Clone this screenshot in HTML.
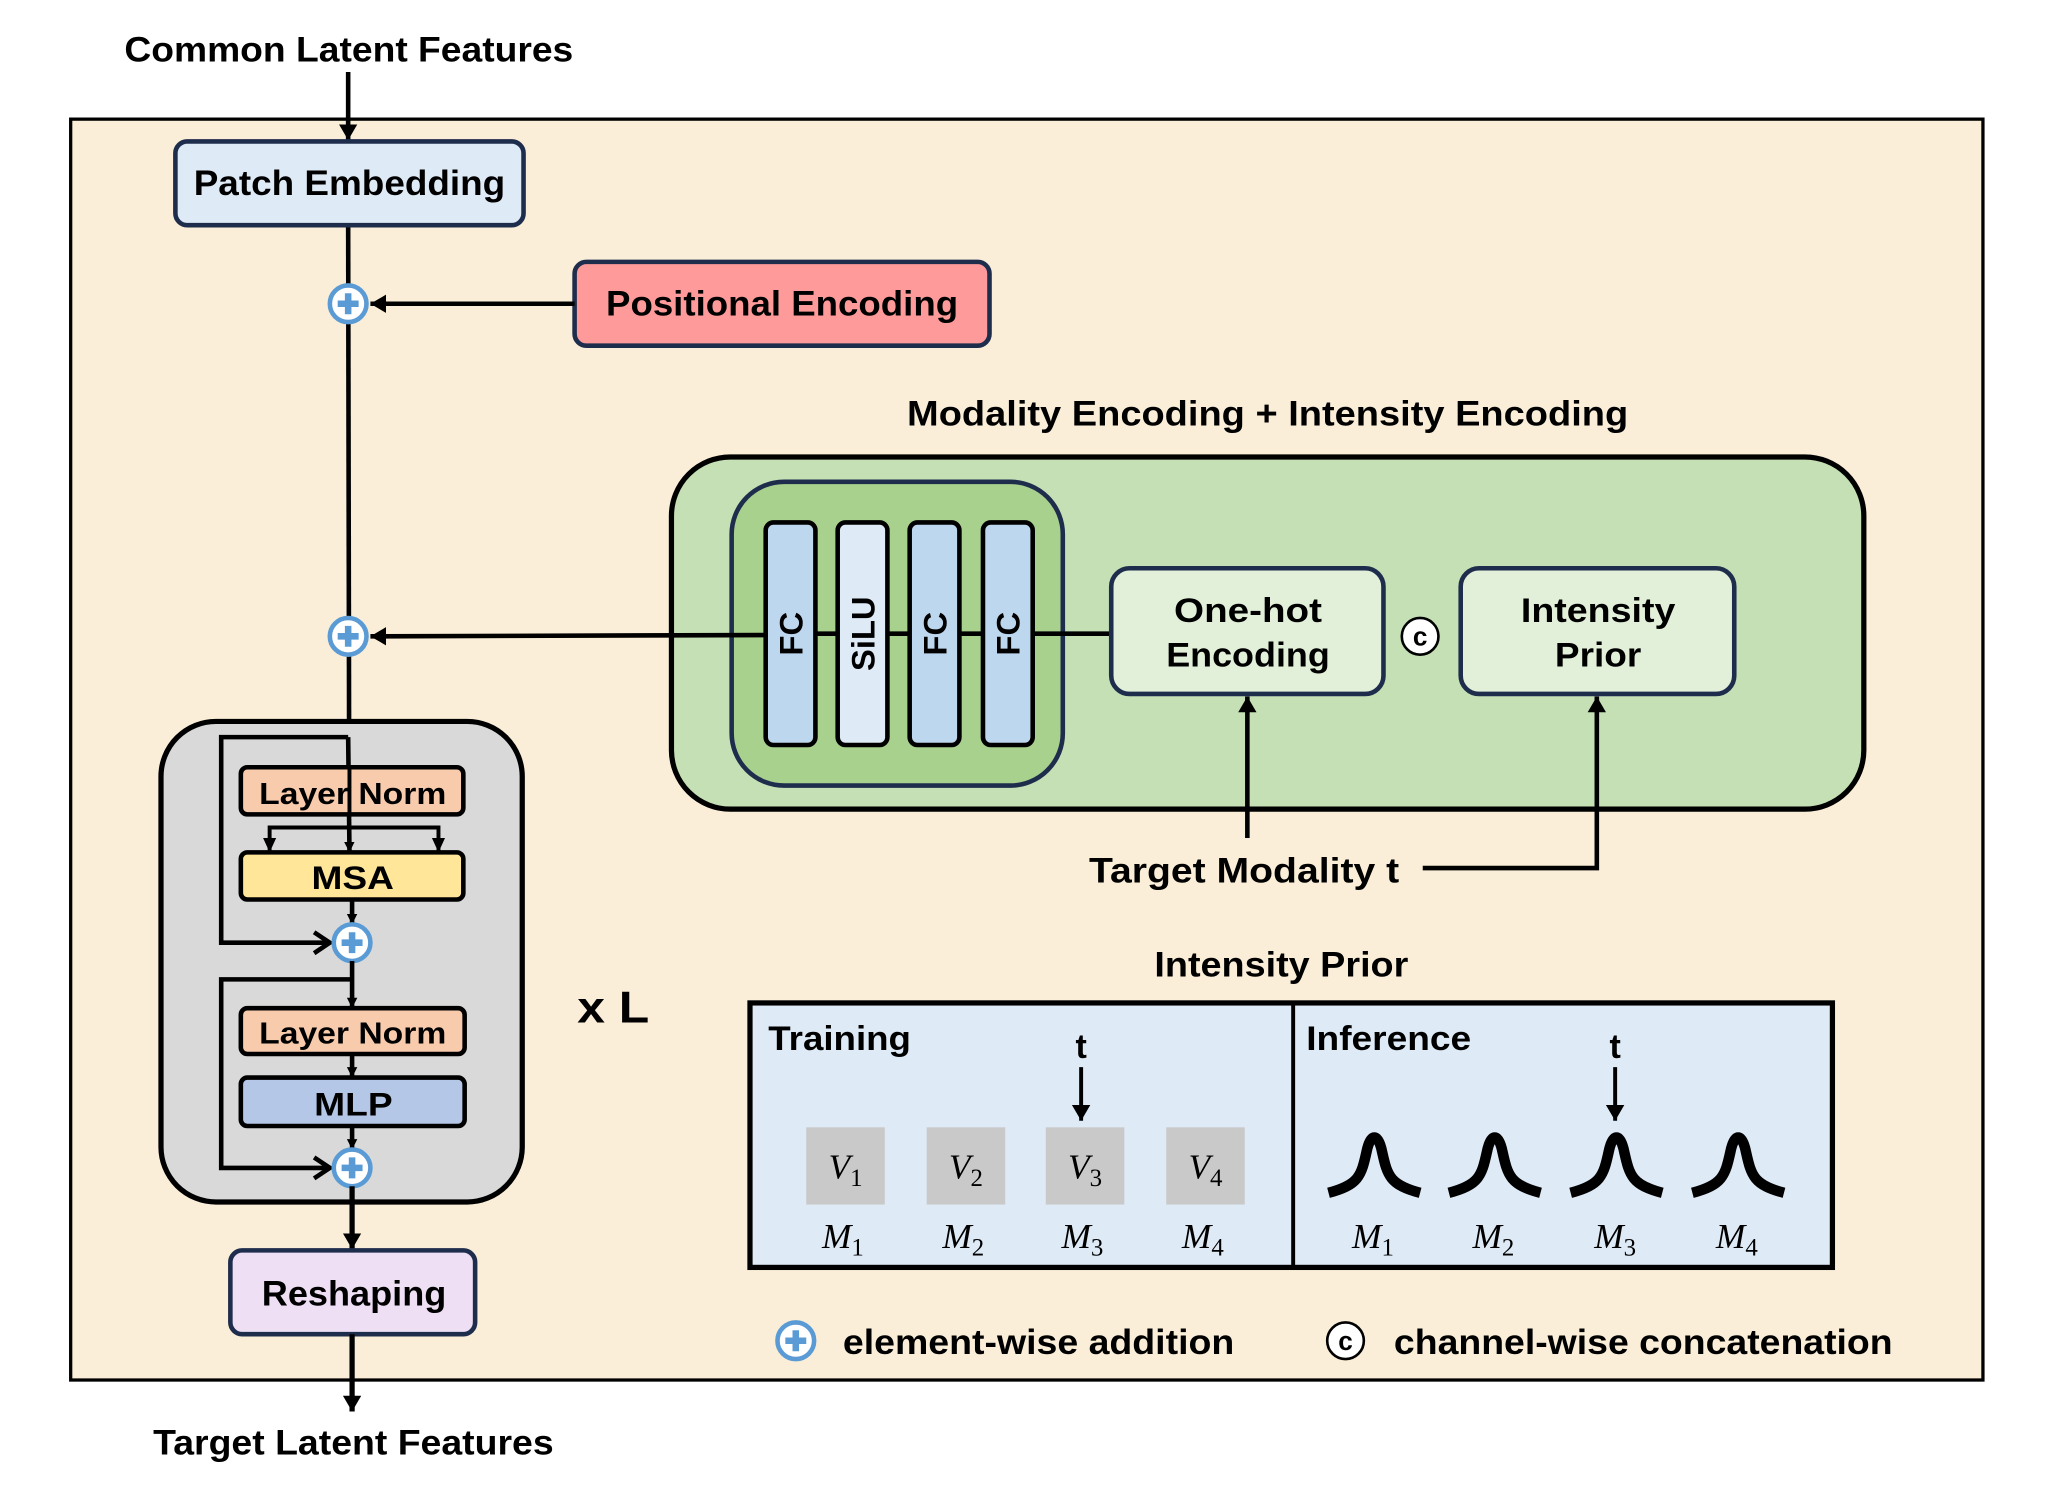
<!DOCTYPE html>
<html><head><meta charset="utf-8"><style>html,body{margin:0;padding:0;background:#fff}svg{display:block}</style></head>
<body>
<svg width="2051" height="1490" viewBox="0 0 1567 1138" preserveAspectRatio="none" xmlns="http://www.w3.org/2000/svg" font-family="Liberation Sans, sans-serif" font-weight="bold">
<defs>
<marker id="a" markerWidth="8" markerHeight="8" refX="7" refY="4" orient="auto" markerUnits="userSpaceOnUse"><path d="M0,0 L8,4 L0,8 z" fill="#000"/></marker>
<marker id="ab" markerWidth="14" markerHeight="14" refX="12" refY="7" orient="auto" markerUnits="userSpaceOnUse"><path d="M0,0 L12,7 L0,14 z" fill="#000"/></marker>
<marker id="ch" markerWidth="16" markerHeight="20" refX="14" refY="10" orient="auto" markerUnits="userSpaceOnUse"><path d="M2,2 L14,10 L2,18" fill="none" stroke="#000" stroke-width="3.5"/></marker>
<g id="plus"><circle r="14" fill="#fff" stroke="#5B9BD5" stroke-width="3.5"/><path d="M-8,0 H8 M0,-8 V8" stroke="#5B9BD5" stroke-width="5"/></g>
<g id="cc"><circle r="14" fill="#fff" stroke="#000" stroke-width="2"/><text y="7" text-anchor="middle" font-size="20">c</text></g>
</defs>
<rect x="54" y="91" width="1461" height="963" fill="#FAEED8" stroke="#000" stroke-width="2.5"/>
<text x="95" y="47" font-size="27" textLength="343" lengthAdjust="spacingAndGlyphs">Common Latent Features</text>
<line x1="266" y1="55" x2="266" y2="107" stroke="#000" stroke-width="3.5" marker-end="url(#ab)"/>
<line x1="266" y1="172" x2="267" y2="720" stroke="#000" stroke-width="3.5"/>
<rect x="134" y="108" width="266" height="64" rx="9" fill="#DEEAF6" stroke="#1F2D4D" stroke-width="3.5"/>
<text x="148" y="149" font-size="27" textLength="238" lengthAdjust="spacingAndGlyphs">Patch Embedding</text>
<rect x="439" y="200" width="317" height="64" rx="9" fill="#FE9A9A" stroke="#1F2D4D" stroke-width="3.5"/>
<text x="463" y="241" font-size="27" textLength="269" lengthAdjust="spacingAndGlyphs">Positional Encoding</text>
<line x1="439" y1="232" x2="283" y2="232" stroke="#000" stroke-width="3.5" marker-end="url(#ab)"/>
<use href="#plus" x="266" y="232"/>
<text x="693" y="325" font-size="27" textLength="551" lengthAdjust="spacingAndGlyphs">Modality Encoding + Intensity Encoding</text>
<rect x="513" y="349" width="911" height="269" rx="45" fill="#C5E0B4" stroke="#000" stroke-width="4"/>
<rect x="559" y="368" width="253" height="232" rx="40" fill="#A9D18E" stroke="#1F2D4D" stroke-width="3.5"/>
<line x1="585" y1="485" x2="283" y2="486" stroke="#000" stroke-width="3.5" marker-end="url(#ab)"/>
<line x1="585" y1="484" x2="849" y2="484" stroke="#000" stroke-width="3.5"/>
<use href="#plus" x="266" y="486"/>
<g stroke="#000" stroke-width="3.5">
<rect x="585" y="399" width="38" height="170" rx="6" fill="#BDD7EE"/>
<rect x="640" y="399" width="38" height="170" rx="6" fill="#DEEBF7"/>
<rect x="695" y="399" width="38" height="170" rx="6" fill="#BDD7EE"/>
<rect x="751" y="399" width="38" height="170" rx="6" fill="#BDD7EE"/>
</g>
<g font-size="25">
<text transform="translate(613,484) rotate(-90)" text-anchor="middle">FC</text>
<text transform="translate(668,484) rotate(-90)" text-anchor="middle">SiLU</text>
<text transform="translate(723,484) rotate(-90)" text-anchor="middle">FC</text>
<text transform="translate(779,484) rotate(-90)" text-anchor="middle">FC</text>
</g>
<rect x="849" y="434" width="208" height="96" rx="14" fill="#E2F0D9" stroke="#1F2D4D" stroke-width="3.5"/>
<text x="897" y="475" font-size="26" textLength="113" lengthAdjust="spacingAndGlyphs">One-hot</text>
<text x="891" y="509" font-size="26" textLength="125" lengthAdjust="spacingAndGlyphs">Encoding</text>
<use href="#cc" x="1085" y="486"/>
<rect x="1116" y="434" width="209" height="96" rx="14" fill="#E2F0D9" stroke="#1F2D4D" stroke-width="3.5"/>
<text x="1162" y="475" font-size="26" textLength="118" lengthAdjust="spacingAndGlyphs">Intensity</text>
<text x="1188" y="509" font-size="26" textLength="66" lengthAdjust="spacingAndGlyphs">Prior</text>
<line x1="953" y1="640" x2="953" y2="532" stroke="#000" stroke-width="3.5" marker-end="url(#ab)"/>
<polyline points="1087,663 1220,663 1220,532" fill="none" stroke="#000" stroke-width="3.5" marker-end="url(#ab)"/>
<text x="832" y="674" font-size="27" textLength="237" lengthAdjust="spacingAndGlyphs">Target Modality t</text>
<rect x="123" y="551" width="276" height="367" rx="42" fill="#D9D9D9" stroke="#000" stroke-width="4"/>
<polyline points="266,563 169,563 169,720 252,720" fill="none" stroke="#000" stroke-width="3.5" marker-end="url(#ch)"/>
<line x1="266" y1="563" x2="267" y2="650" stroke="#000" stroke-width="3.5" marker-end="url(#a)"/>
<rect x="184" y="586" width="170" height="36" rx="5" fill="#F8CBAD" stroke="#000" stroke-width="3.5"/>
<text x="198" y="614" font-size="23" textLength="143" lengthAdjust="spacingAndGlyphs">Layer Norm</text>
<line x1="267" y1="586" x2="267" y2="622" stroke="#000" stroke-width="3"/>
<polyline points="206,650 206,632 335,632 335,650" fill="none" stroke="#000" stroke-width="3"/>
<path d="M201,640 L211,640 L206,651 z M330,640 L340,640 L335,651 z" fill="#000"/>
<rect x="184" y="651" width="170" height="36" rx="5" fill="#FFE699" stroke="#000" stroke-width="3.5"/>
<text x="238" y="679" font-size="25" textLength="63" lengthAdjust="spacingAndGlyphs">MSA</text>
<line x1="269" y1="687" x2="269" y2="705" stroke="#000" stroke-width="3.5" marker-end="url(#a)"/>
<use href="#plus" x="269" y="720"/>
<line x1="269" y1="734" x2="269" y2="769" stroke="#000" stroke-width="3.5" marker-end="url(#a)"/>
<polyline points="269,748 169,748 169,892 252,892" fill="none" stroke="#000" stroke-width="3.5" marker-end="url(#ch)"/>
<rect x="184" y="770" width="171" height="35" rx="5" fill="#F8CBAD" stroke="#000" stroke-width="3.5"/>
<text x="198" y="797" font-size="23" textLength="143" lengthAdjust="spacingAndGlyphs">Layer Norm</text>
<line x1="269" y1="805" x2="269" y2="822" stroke="#000" stroke-width="3.5" marker-end="url(#a)"/>
<rect x="184" y="823" width="171" height="37" rx="5" fill="#B4C7E7" stroke="#000" stroke-width="3.5"/>
<text x="240" y="852" font-size="25" textLength="60" lengthAdjust="spacingAndGlyphs">MLP</text>
<line x1="269" y1="860" x2="269" y2="877" stroke="#000" stroke-width="3.5" marker-end="url(#a)"/>
<use href="#plus" x="269" y="892"/>
<line x1="269" y1="906" x2="269" y2="954" stroke="#000" stroke-width="4" marker-end="url(#ab)"/>
<text x="441" y="781" font-size="34" textLength="55" lengthAdjust="spacingAndGlyphs">x L</text>
<rect x="176" y="955" width="187" height="64" rx="9" fill="#EFDFF5" stroke="#1F2D4D" stroke-width="3.5"/>
<text x="200" y="997" font-size="27" textLength="141" lengthAdjust="spacingAndGlyphs">Reshaping</text>
<line x1="269" y1="1019" x2="269" y2="1078" stroke="#000" stroke-width="4" marker-end="url(#ab)"/>
<text x="117" y="1111" font-size="27" textLength="306" lengthAdjust="spacingAndGlyphs">Target Latent Features</text>
<text x="882" y="746" font-size="27" textLength="194" lengthAdjust="spacingAndGlyphs">Intensity Prior</text>
<rect x="573" y="766" width="827" height="202" fill="#DEEAF6" stroke="#000" stroke-width="4"/>
<line x1="988" y1="766" x2="988" y2="968" stroke="#000" stroke-width="3"/>
<text x="587" y="802" font-size="26" textLength="109" lengthAdjust="spacingAndGlyphs">Training</text>
<text x="998" y="802" font-size="26" textLength="126" lengthAdjust="spacingAndGlyphs">Inference</text>
<text x="826" y="808" font-size="26" text-anchor="middle">t</text>
<text x="1234" y="808" font-size="26" text-anchor="middle">t</text>
<line x1="826" y1="815" x2="826" y2="856" stroke="#000" stroke-width="3" marker-end="url(#ab)"/>
<line x1="1234" y1="815" x2="1234" y2="856" stroke="#000" stroke-width="3" marker-end="url(#ab)"/>
<g fill="#C9C9C9"><rect x="616" y="861" width="60" height="59"/><rect x="708" y="861" width="60" height="59"/><rect x="799" y="861" width="60" height="59"/><rect x="891" y="861" width="60" height="59"/></g>
<g font-family="Liberation Serif, serif" font-weight="normal" font-size="27">
<text x="633" y="900" font-style="italic">V<tspan font-style="normal" font-size="19" dy="6">1</tspan></text>
<text x="725" y="900" font-style="italic">V<tspan font-style="normal" font-size="19" dy="6">2</tspan></text>
<text x="816" y="900" font-style="italic">V<tspan font-style="normal" font-size="19" dy="6">3</tspan></text>
<text x="908" y="900" font-style="italic">V<tspan font-style="normal" font-size="19" dy="6">4</tspan></text>
<text x="628" y="953" font-style="italic">M<tspan font-style="normal" font-size="19" dy="6">1</tspan></text>
<text x="720" y="953" font-style="italic">M<tspan font-style="normal" font-size="19" dy="6">2</tspan></text>
<text x="811" y="953" font-style="italic">M<tspan font-style="normal" font-size="19" dy="6">3</tspan></text>
<text x="903" y="953" font-style="italic">M<tspan font-style="normal" font-size="19" dy="6">4</tspan></text>
<text x="1033" y="953" font-style="italic">M<tspan font-style="normal" font-size="19" dy="6">1</tspan></text>
<text x="1125" y="953" font-style="italic">M<tspan font-style="normal" font-size="19" dy="6">2</tspan></text>
<text x="1218" y="953" font-style="italic">M<tspan font-style="normal" font-size="19" dy="6">3</tspan></text>
<text x="1311" y="953" font-style="italic">M<tspan font-style="normal" font-size="19" dy="6">4</tspan></text>
</g>
<g fill="none" stroke="#000" stroke-width="8">
<path d="M1015,911 C1038,905 1040,898 1044,880 C1047,865 1053,865 1056,880 C1060,898 1062,905 1085,911"/>
<path d="M1107,911 C1130,905 1132,898 1136,880 C1139,865 1145,865 1148,880 C1152,898 1154,905 1177,911"/>
<path d="M1200,911 C1223,905 1225,898 1229,880 C1232,865 1238,865 1241,880 C1245,898 1247,905 1270,911"/>
<path d="M1293,911 C1316,905 1318,898 1322,880 C1325,865 1331,865 1334,880 C1338,898 1340,905 1363,911"/>
</g>
<use href="#plus" x="608" y="1024"/>
<text x="644" y="1034" font-size="27" textLength="299" lengthAdjust="spacingAndGlyphs">element-wise addition</text>
<use href="#cc" x="1028" y="1024"/>
<text x="1065" y="1034" font-size="27" textLength="381" lengthAdjust="spacingAndGlyphs">channel-wise concatenation</text>
</svg>
</body></html>
